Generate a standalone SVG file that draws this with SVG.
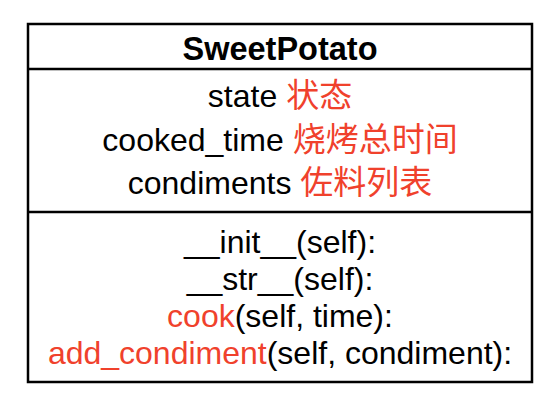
<svg xmlns="http://www.w3.org/2000/svg" width="556" height="412" viewBox="0 0 556 412">
<style>
  .box { fill: #ffffff; stroke: #000000; stroke-width: 2.5; }
  .sep { stroke: #000000; stroke-width: 2.5; }
  .t { font-family: "Liberation Sans", Arial, "Noto Sans CJK SC", sans-serif; font-size: 32px; fill: #000000; text-anchor: middle; }
  .title { font-weight: bold; font-size: 32.5px; }
  .red { fill: #F0412C; }
  .cjk { font-family: "Noto Sans CJK SC", "Liberation Sans", sans-serif; font-size: 33px; }
</style>
<rect width="556" height="412" fill="#ffffff"/>
<g id="SweetPotato">
  <rect class="box" x="28" y="24" width="504" height="358"/>
  <line class="sep" x1="28" y1="69" x2="532" y2="69"/>
  <line class="sep" x1="28" y1="212" x2="532" y2="212"/>
  <text class="t title" x="280" y="60">SweetPotato</text>
  <text class="t" x="280" y="107">state <tspan class="red cjk">状态</tspan></text>
  <text class="t" x="280" y="151">cooked_time <tspan class="red cjk">烧烤总时间</tspan></text>
  <text class="t" x="280" y="194">condiments <tspan class="red cjk">佐料列表</tspan></text>
  <text class="t" x="280" y="253">__init__(self):</text>
  <text class="t" x="280" y="290">__str__(self):</text>
  <text class="t" x="280" y="327"><tspan class="red">cook</tspan>(self, time):</text>
  <text class="t" x="280" y="364"><tspan class="red">add_condiment</tspan>(self, condiment):</text>
</g>
<g id="connectors"/>
</svg>
